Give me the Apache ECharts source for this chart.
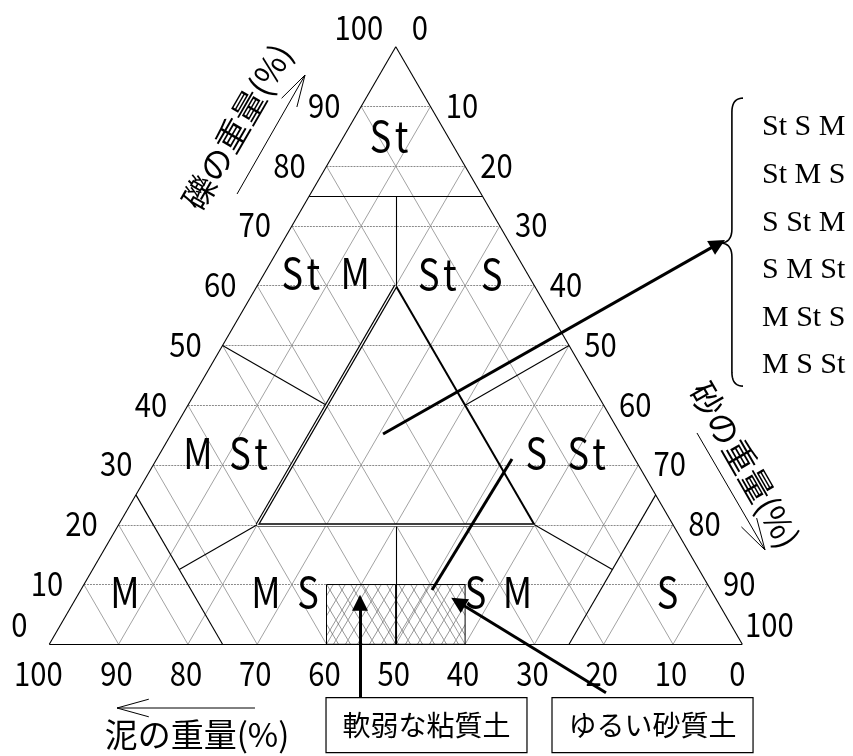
<!DOCTYPE html>
<html>
<head>
<meta charset="utf-8">
<script src="https://cdn.jsdelivr.net/npm/echarts@6/dist/echarts.min.js"></script>
<style>
html,body{margin:0;padding:0;background:#fff;}
#chart{width:853px;height:756px;}
</style>
</head>
<body>
<div id="chart"></div>
<script>
// Percent ticks printed along each side of the triangle
const tickValues = [0, 10, 20, 30, 40, 50, 60, 70, 80, 90, 100];
// Interior grid steps (percent)
const gridSteps = [10, 20, 30, 40, 50, 60, 70, 80, 90];
// Classification boundaries, each end as [gravel, sand, mud] percent
const classBoundaries = [
  [[75, 0, 25], [75, 25, 0]],
  [[75, 12.5, 12.5], [60, 20, 20]],
  [[50, 0, 50], [40, 20, 40]],
  [[50, 50, 0], [40, 40, 20]],
  [[25, 0, 75], [0, 25, 75]],
  [[25, 75, 0], [0, 75, 25]],
  [[20, 20, 60], [12.5, 12.5, 75]],
  [[20, 60, 20], [12.5, 75, 12.5]],
  [[20, 40, 40], [0, 50, 50]]
];
// Central zone where every component is at least 20 %
const coreTriangle = [[60, 20, 20], [20, 60, 20], [20, 20, 60]];
// Class names
const regionNames = ['St', 'St M', 'St S', 'M St', 'S St', 'M', 'M S', 'S M', 'S'];
const subclassNames = ['St S M', 'St M S', 'S St M', 'S M St', 'M St S', 'M S St'];
const axisTitles = ['礫の重量(%)', '砂の重量(%)', '泥の重量(%)'];
const zoneTitles = ['軟弱な粘質土', 'ゆるい砂質土'];
// Weak-soil zones along the base: sand bounds (at zero gravel) and gravel ceiling
const zoneSand = [40, 50, 60];
const zoneGravel = 10;

// ---- layout (chart units: x = sand + gravel/2, y = gravel) ----
const layout = {
  regionLabels: [[49.3, 85.1], [39.6, 62.1], [59.3, 62.0], [26.0, 32.0], [74.8, 32.0],
                 [10.92, 8.75], [34.3, 8.75], [64.53, 8.75], [89.2, 8.75]],
  axisTitle: [[27.08, 86.6, Math.PI / 3], [100.38, 30.0, -Math.PI / 3], [21.31, -15.11, 0]],
  axisArrow: [[[27.09, 75.35], [36.9, 95.26]], [[93.46, 35.36], [103.28, 15.78]], [[29.68, -10.66], [9.77, -10.66]]],
  pointer: [[48.16, 35.2], [96.5, 67.0]],
  pointerLine: [[66.77, 31.0], [55.22, 9.09]],
  zoneArrows: [[[44.83, -8.93], [44.83, 6.95]], [[80.33, -8.1], [58.98, 7.08]]],
  brace: { tipX: 96.78, tipY: 67.15, spineX: 98.5, endX: 100.1, top: 91.4, bottom: 43.2 },
  listX: 102.84,
  listY: [86.56, 78.53, 70.5, 62.63, 54.6, 46.74],
  boxes: [[[39.93, -8.93], [68.93, -18.13]], [[72.54, -8.93], [101.55, -18.13]]]
};

const toXY = t => [t[1] + t[0] / 2, t[0]];
const seg = (a, b) => ({ coords: [toXY(a), toXY(b)] });

const gridH = [], gridD = [];
gridSteps.forEach(k => {
  gridH.push(seg([k, 0, 100 - k], [k, 100 - k, 0]));
  gridD.push(seg([0, k, 100 - k], [100 - k, k, 0]));
  gridD.push(seg([0, 100 - k, k], [100 - k, 0, k]));
});
const outline = [seg([100, 0, 0], [0, 100, 0]), seg([0, 100, 0], [0, 0, 100]), seg([0, 0, 100], [100, 0, 0])];
const boundarySegs = classBoundaries.map(b => seg(b[0], b[1]));
const coreRight = [seg(coreTriangle[0], coreTriangle[1])];
const coreDouble = [seg(coreTriangle[1], coreTriangle[2]), seg(coreTriangle[2], coreTriangle[0])];

// ---- text items ----
const TICK_FONT = '34px "Noto Sans CJK JP"';
const REGION_FONT = '42px "Noto Sans CJK JP"';
const TITLE_FONT = '33px "Noto Sans CJK JP"';
const texts = [];
function addText(pos, text, font, opt) {
  texts.push(Object.assign({ pos, text, font, dx: 0, dy: 0, rot: 0, sx: 1, align: 'center' }, opt || {}));
}
// fixed-pitch placement, one cell per character
function addMono(pos, text, font, pitch, opt) {
  const n = text.length;
  for (let i = 0; i < n; i++) {
    if (text[i] === ' ') continue;
    addText(pos, text[i], font, Object.assign({}, opt, { dx: (i - (n - 1) / 2) * pitch }));
  }
}
tickValues.forEach(v => {
  const end = v === 0 || v === 100;
  // gravel, left side
  const gp = toXY([v, 0, 100 - v]);
  addText(gp, String(v), TICK_FONT, { dx: v === 0 ? -30 : -37, dy: end ? -20 : -1.5, sx: 0.86 });
  // sand, right side
  const sp = toXY([100 - v, v, 0]);
  addText(sp, String(v), TICK_FONT, { dx: v === 0 ? 24 : (v === 100 ? 27 : 31.5), dy: end ? -20 : -1.5, sx: 0.86 });
  // mud, base
  const mp = toXY([0, 100 - v, v]);
  addText(mp, String(v), TICK_FONT, { dx: v === 100 ? -11 : (v === 0 ? -5 : -2), dy: 29, sx: 0.86 });
});
regionNames.forEach((n, i) => addMono(layout.regionLabels[i], n, REGION_FONT, 21, { sx: 0.86 }));
axisTitles.forEach((n, i) => {
  const a = layout.axisTitle[i];
  addText([a[0], a[1]], n, TITLE_FONT, { rot: a[2] });
});
subclassNames.forEach((n, i) => addText([layout.listX, layout.listY[i]], n, '30px "Liberation Serif"', { align: 'left' }));
zoneTitles.forEach((n, i) => {
  const b = layout.boxes[i];
  addText([(b[0][0] + b[1][0]) / 2, (b[0][1] + b[1][1]) / 2], n, '28px "Noto Sans CJK JP"');
});

// cross-hatch tile for the weak-soil zones
function hatchTile() {
  const c = document.createElement('canvas');
  c.width = 12; c.height = 20;
  const g = c.getContext('2d');
  g.strokeStyle = 'rgba(70,70,70,0.8)';
  g.lineWidth = 0.7;
  g.beginPath();
  g.moveTo(0, 0); g.lineTo(12, 20);
  g.moveTo(12, 0); g.lineTo(0, 20);
  g.stroke();
  return c;
}
const hatch = hatchTile();

const lineSeries = (data, style, z) => ({
  type: 'lines', coordinateSystem: 'cartesian2d', clip: false, silent: true, z: z || 2,
  symbol: 'none', lineStyle: Object.assign({ opacity: 1 }, style), data
});

function vArrow(a, b, api) {
  const p = api.coord(a), q = api.coord(b);
  const ang = Math.atan2(p[1] - q[1], p[0] - q[0]);
  const L = 33, w = 0.27;
  const h1 = [q[0] + L * Math.cos(ang + w), q[1] + L * Math.sin(ang + w)];
  const h2 = [q[0] + L * Math.cos(ang - w), q[1] + L * Math.sin(ang - w)];
  return [
    { type: 'line', shape: { x1: p[0], y1: p[1], x2: q[0], y2: q[1] }, style: { stroke: '#000', lineWidth: 1 } },
    { type: 'polyline', shape: { points: [h1, q, h2] }, style: { stroke: '#000', lineWidth: 1, fill: null } }
  ];
}

const option = {
  animation: false,
  backgroundColor: '#fff',
  grid: { left: 49.3, top: 46.7, width: 693, height: 597.6 },
  xAxis: { type: 'value', min: 0, max: 100, show: false },
  yAxis: { type: 'value', min: 0, max: 100, show: false },
  series: [
    lineSeries(gridD, { color: '#8a8a8a', width: 0.8 }, 1),
    lineSeries(gridH, { color: '#8a8a8a', width: 1, type: [2, 1] }, 1),
    {
      // weak-soil zones
      type: 'custom', coordinateSystem: 'cartesian2d', clip: false, silent: true, z: 2,
      data: [[zoneSand[0], zoneSand[1]], [zoneSand[1], zoneSand[2]]],
      renderItem(params, api) {
        const a = api.coord([api.value(0), zoneGravel]);
        const b = api.coord([api.value(1), 0]);
        return {
          type: 'rect',
          shape: { x: a[0], y: a[1], width: b[0] - a[0], height: b[1] - a[1] },
          style: { fill: { image: hatch, repeat: 'repeat' }, stroke: '#000', lineWidth: 1 }
        };
      }
    },
    lineSeries(outline, { color: '#000', width: 1.1 }, 3),
    lineSeries(boundarySegs, { color: '#000', width: 1.1 }, 3),
    lineSeries(coreRight, { color: '#000', width: 2 }, 3),
    lineSeries(coreDouble, { color: '#000', width: 3.6 }, 3),
    lineSeries(coreDouble, { color: '#fff', width: 1.3 }, 4),
    {
      type: 'lines', coordinateSystem: 'cartesian2d', clip: false, silent: true, z: 6,
      symbol: ['none', 'triangle'], symbolSize: [10, 16],
      lineStyle: { color: '#000', width: 3, opacity: 1 },
      data: [{ coords: layout.pointer }, { coords: layout.zoneArrows[0] }, { coords: layout.zoneArrows[1] }]
    },
    lineSeries([{ coords: layout.pointerLine }], { color: '#000', width: 3 }, 6),
    {
      // axis direction arrows
      type: 'custom', coordinateSystem: 'cartesian2d', clip: false, silent: true, z: 6,
      data: layout.axisArrow.map((a, i) => [i]),
      renderItem(params, api) {
        const a = layout.axisArrow[params.dataIndex];
        return { type: 'group', children: vArrow(a[0], a[1], api) };
      }
    },
    {
      // brace grouping the six sub-classes
      type: 'custom', coordinateSystem: 'cartesian2d', clip: false, silent: true, z: 6,
      data: [[0]],
      renderItem(params, api) {
        const B = layout.brace;
        const tip = api.coord([B.tipX, B.tipY]);
        const sx = api.coord([B.spineX, 0])[0];
        const ex = api.coord([B.endX, 0])[0];
        const top = api.coord([0, B.top])[1];
        const bot = api.coord([0, B.bottom])[1];
        const r = 14;
        const pts = [];
        const quad = (p0, c, p1) => {
          for (let t = 0; t <= 1.0001; t += 0.1) {
            const u = 1 - t;
            pts.push([u * u * p0[0] + 2 * u * t * c[0] + t * t * p1[0], u * u * p0[1] + 2 * u * t * c[1] + t * t * p1[1]]);
          }
        };
        quad([ex, top], [sx, top], [sx, top + r]);
        quad([sx, tip[1] - r], [sx, tip[1]], [tip[0], tip[1]]);
        quad([tip[0], tip[1]], [sx, tip[1]], [sx, tip[1] + r]);
        quad([sx, bot - r], [sx, bot], [ex, bot]);
        return { type: 'polyline', shape: { points: pts }, style: { stroke: '#000', lineWidth: 1.6, fill: null } };
      }
    },
    {
      // label boxes
      type: 'custom', coordinateSystem: 'cartesian2d', clip: false, silent: true, z: 7,
      data: layout.boxes.map((b, i) => [i]),
      renderItem(params, api) {
        const b = layout.boxes[params.dataIndex];
        const p = api.coord(b[0]), q = api.coord(b[1]);
        return { type: 'rect', shape: { x: p[0], y: p[1], width: q[0] - p[0], height: q[1] - p[1] },
                 style: { fill: '#fff', stroke: '#000', lineWidth: 1.2 } };
      }
    },
    {
      // every piece of text
      type: 'custom', coordinateSystem: 'cartesian2d', clip: false, silent: true, z: 8,
      data: texts.map(t => t.pos),
      renderItem(params, api) {
        const t = texts[params.dataIndex];
        const p = api.coord(t.pos);
        return {
          type: 'text', x: p[0] + t.dx, y: p[1] + t.dy, rotation: t.rot, scaleX: t.sx,
          style: { text: t.text, font: t.font, fill: '#000', align: t.align, verticalAlign: 'middle' }
        };
      }
    }
  ]
};
const chart = echarts.init(document.getElementById('chart'));
chart.setOption(option);
</script>
</body>
</html>
